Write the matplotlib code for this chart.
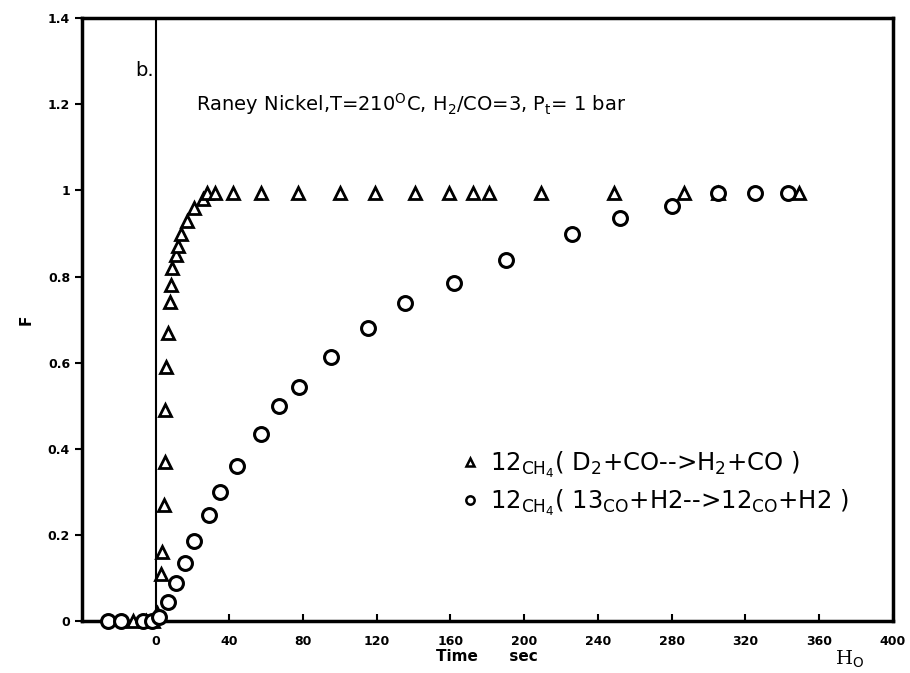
import matplotlib
matplotlib.use("Agg")
import matplotlib.pyplot as plt
from matplotlib.lines import Line2D

# D2 switch (triangles)
tri_t = [-12, -5, -1.5, 0.5, 2.7, 3.3, 4.4, 4.9, 5.2, 5.6, 6.5, 7.6, 8.4, 9.0, 10.9, 12,
         14, 17, 21, 25.6, 28, 32, 42, 57, 77, 100, 119, 141, 159, 172, 181, 209, 249,
         287, 305, 349]
tri_F = [0, 0, 0, 0.02, 0.11, 0.16, 0.27, 0.37, 0.49, 0.59, 0.67, 0.74, 0.78, 0.82, 0.85, 0.87,
         0.90, 0.93, 0.96, 0.98, 0.995, 0.995, 0.995, 0.995, 0.995, 0.995, 0.995, 0.995, 0.995,
         0.995, 0.995, 0.995, 0.995, 0.995, 0.995, 0.995]

# 13CO switch (circles)
circ_t = [-26, -19, -7, -2, 2, 6.5, 11, 16, 21, 29, 35, 44, 57, 67, 78, 95, 115, 135.5,
          162, 190, 226, 252, 280, 305, 325, 343]
circ_F = [0, 0, 0, 0, 0.01, 0.044, 0.088, 0.136, 0.185, 0.246, 0.30, 0.36, 0.434, 0.499,
          0.543, 0.613, 0.68, 0.738, 0.784, 0.838, 0.90, 0.935, 0.965, 0.993, 0.993, 0.993]

xticks = list(range(0, 401, 40))
yticks = [0, 0.2, 0.4, 0.6, 0.8, 1, 1.2, 1.4]
ytick_labels = ["0", "0.2", "0.4", "0.6", "0.8", "1", "1.2", "1.4"]

fig = plt.figure(figsize=(9.10, 6.73), dpi=100)
ax = fig.add_axes([0.090, 0.077, 0.891, 0.896])

ax.plot(tri_t, tri_F, ls="none", marker="^", ms=8, mfc="white", mec="black", mew=2,
        clip_on=False, zorder=3)
ax.plot(circ_t, circ_F, ls="none", marker="o", ms=10, mfc="white", mec="black", mew=2.2,
        clip_on=False, zorder=3)

ax.axvline(0, color="black", lw=1.5, zorder=1)

ax.set_xlim(-40, 400)
ax.set_ylim(0, 1.4)
ax.set_xticks(xticks)
ax.set_xticklabels([str(v) for v in xticks], fontsize=9, fontweight="bold")
ax.set_yticks(yticks)
ax.set_yticklabels(ytick_labels, fontsize=9, fontweight="bold")
ax.tick_params(axis="x", direction="in", length=5, width=1.5, pad=10)
ax.tick_params(axis="y", direction="out", length=5, width=1.5)
for s in ax.spines.values():
    s.set_linewidth(2.5)

ax.set_ylabel("F", fontsize=11, fontweight="bold", labelpad=10)
ax.set_xlabel("Time      sec", fontsize=11, fontweight="bold", labelpad=1)

ax.text(-11, 1.265, "b.", fontsize=14)
ax.text(22, 1.185, r"Raney Nickel,T=210$^{\mathrm{O}}$C, H$_2$/CO=3, P$_\mathrm{t}$= 1 bar",
        fontsize=14)

handles = [Line2D([], [], ls="none", marker="^", ms=6, mfc="white", mec="black", mew=1.8),
           Line2D([], [], ls="none", marker="o", ms=6, mfc="white", mec="black", mew=1.8)]
labels = [r"12$_{\mathrm{CH_4}}$( D$_2$+CO-->H$_2$+CO )",
          r"12$_{\mathrm{CH_4}}$( 13$_{\mathrm{CO}}$+H2-->12$_{\mathrm{CO}}$+H2 )"]
ax.legend(handles, labels, loc="upper left", bbox_to_anchor=(0.458, 0.30), frameon=False,
          fontsize=17.5, handlelength=0.6, handletextpad=0.5, labelspacing=0.3,
          borderaxespad=0)

fig.text(0.918, 0.012, r"H$_\mathrm{O}$", fontsize=14, family="serif")

fig.savefig("out.png", dpi=100)
